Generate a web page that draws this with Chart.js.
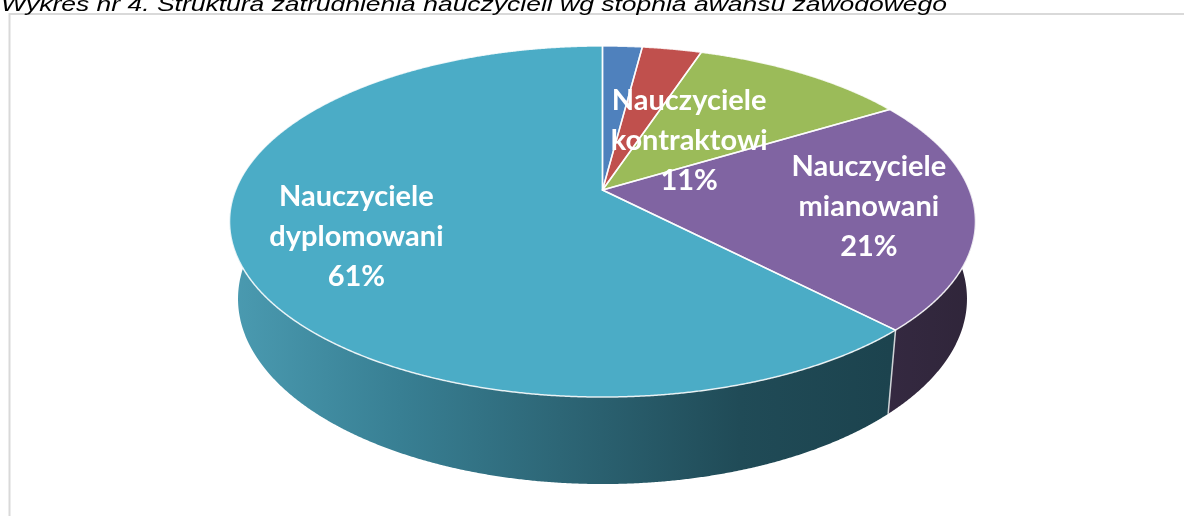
<!DOCTYPE html>
<html>
<head>
<meta charset="utf-8">
<script src="https://cdn.jsdelivr.net/npm/chart.js@4/dist/chart.umd.min.js"></script>
<style>
  html, body { margin: 0; padding: 0; background: #fff; }
  #wrap { position: absolute; left: 0; top: 0; width: 1184px; height: 516px; }
</style>
</head>
<body>
<div id="wrap"><canvas id="pie3d" width="1184" height="516"></canvas></div>
<script>
// data
const categories = ['Nauczyciele bez stopnia', 'Nauczyciele stażyści', 'Nauczyciele kontraktowi', 'Nauczyciele mianowani', 'Nauczyciele dyplomowani'];
const shares = [2, 3, 11, 21, 61];
const labelNames = [null, null, ['Nauczyciele', 'kontraktowi'], ['Nauczyciele', 'mianowani'], ['Nauczyciele', 'dyplomowani']];
const titleText = 'Wykres nr 4. Struktura zatrudnienia nauczycieli wg stopnia awansu zawodowego';

// styles
const topColors = ['#4f81bd', '#c0504d', '#9bbb59', '#8064a2', '#4bacc6'];
const wallStops = [
    [[0, '#2f4d71'], [1, '#2f4d71']],
    [[0, '#73302e'], [1, '#73302e']],
    [[0, '#5d7035'], [1, '#5d7035']],
    [[860, '#362a43'], [980, '#2f2539']],
    [[235, '#4a9ab0'], [400, '#387f93'], [560, '#2d6676'], [740, '#204b57'], [890, '#1c434e']]
];
const labelRadius = [0, 0, 0.40, 0.72, 0.69];
// perspective camera for the tilted disc
const cam = { F: 1811, D: 4.936, c: 0.886, s: 0.463, h: 0.24 };

function project(cx, cy, r, a, y) {
    const X = r * Math.cos(a);
    const Z = -r * Math.sin(a);
    const depth = cam.D + cam.c * Z - cam.s * y;
    return { x: cx + cam.F * X / depth, y: cy - cam.F * (cam.c * y + cam.s * Z) / depth };
}

const frame = {
    id: 'frame',
    beforeDraw(chart) {
        const ctx = chart.ctx;
        ctx.save();
        ctx.strokeStyle = '#d9d9d9';
        ctx.lineWidth = 2;
        ctx.beginPath();
        ctx.moveTo(1190, 14);
        ctx.lineTo(9.5, 14);
        ctx.lineTo(9.5, 520);
        ctx.stroke();
        ctx.font = 'italic 21px "Liberation Sans", Arial, sans-serif';
        ctx.fillStyle = '#000';
        ctx.textBaseline = 'alphabetic';
        const w = ctx.measureText(titleText).width;
        ctx.translate(1, 11);
        ctx.scale(946 / w, 1);
        ctx.fillText(titleText, 0, 0);
        ctx.restore();
    }
};

const pie3d = {
    id: 'pie3d',
    beforeDatasetsDraw(chart) {
        const ctx = chart.ctx;
        const arcs = chart.getDatasetMeta(0).data;
        const cx = arcs[0].x, cy = arcs[0].y;
        const step = 0.004;

        ctx.save();
        // side walls (front half only)
        arcs.forEach((arc, i) => {
            const a1 = Math.max(arc.startAngle, 0);
            const a2 = Math.min(arc.endAngle, Math.PI);
            if (a2 <= a1) return;
            const n = Math.max(2, Math.ceil((a2 - a1) / step));
            ctx.beginPath();
            for (let k = 0; k <= n; k++) {
                const p = project(cx, cy, 1, a1 + (a2 - a1) * k / n, 0);
                k === 0 ? ctx.moveTo(p.x, p.y) : ctx.lineTo(p.x, p.y);
            }
            for (let k = n; k >= 0; k--) {
                const p = project(cx, cy, 1, a1 + (a2 - a1) * k / n, -cam.h);
                ctx.lineTo(p.x, p.y);
            }
            ctx.closePath();
            const stops = wallStops[i];
            const x0 = stops[0][0], x1 = stops[stops.length - 1][0];
            const g = ctx.createLinearGradient(x0, 0, x1 === x0 ? x0 + 1 : x1, 0);
            stops.forEach(s => g.addColorStop(x1 === x0 ? 0 : (s[0] - x0) / (x1 - x0), s[1]));
            ctx.fillStyle = g;
            ctx.fill();
        });
        // seams on the wall
        ctx.strokeStyle = '#cfd3d6';
        ctx.lineWidth = 1.5;
        arcs.forEach(arc => {
            const b = arc.endAngle;
            if (b > 0.02 && b < Math.PI - 0.02) {
                const p = project(cx, cy, 1, b, 0);
                const q = project(cx, cy, 1, b, -cam.h);
                ctx.beginPath();
                ctx.moveTo(p.x, p.y);
                ctx.lineTo(q.x, q.y);
                ctx.stroke();
            }
        });

        // top faces
        const faces = arcs.map(arc => {
            const path = new Path2D();
            path.moveTo(cx, cy);
            const n = Math.max(2, Math.ceil((arc.endAngle - arc.startAngle) / step));
            for (let k = 0; k <= n; k++) {
                const p = project(cx, cy, 1, arc.startAngle + (arc.endAngle - arc.startAngle) * k / n, 0);
                path.lineTo(p.x, p.y);
            }
            path.closePath();
            return path;
        });
        faces.forEach((path, i) => {
            ctx.fillStyle = topColors[i];
            ctx.fill(path);
        });
        ctx.strokeStyle = 'rgba(255,255,255,0.85)';
        ctx.lineWidth = 1.5;
        ctx.lineJoin = 'round';
        faces.forEach(path => ctx.stroke(path));

        // labels
        ctx.fillStyle = '#fff';
        ctx.font = 'bold 29px Lato, "Open Sans", sans-serif';
        ctx.textAlign = 'center';
        ctx.textBaseline = 'middle';
        arcs.forEach((arc, i) => {
            if (!labelNames[i]) return;
            const mid = (arc.startAngle + arc.endAngle) / 2;
            const p = project(cx, cy, labelRadius[i], mid, 0);
            const lines = labelNames[i].concat([shares[i] + '%']);
            lines.forEach((t, k) => ctx.fillText(t, p.x, p.y + 1 + (k - 1) * 40));
        });
        ctx.restore();
        return false;
    }
};

new Chart(document.getElementById('pie3d').getContext('2d'), {
    type: 'pie',
    data: {
        labels: categories,
        datasets: [{ data: shares, backgroundColor: topColors, borderWidth: 0 }]
    },
    options: {
        responsive: false,
        devicePixelRatio: 1,
        animation: false,
        layout: { padding: { left: 21, right: 0, top: 0, bottom: 136 } },
        plugins: {
            legend: { display: false },
            tooltip: { enabled: false }
        }
    },
    plugins: [frame, pie3d]
});
</script>
</body>
</html>
